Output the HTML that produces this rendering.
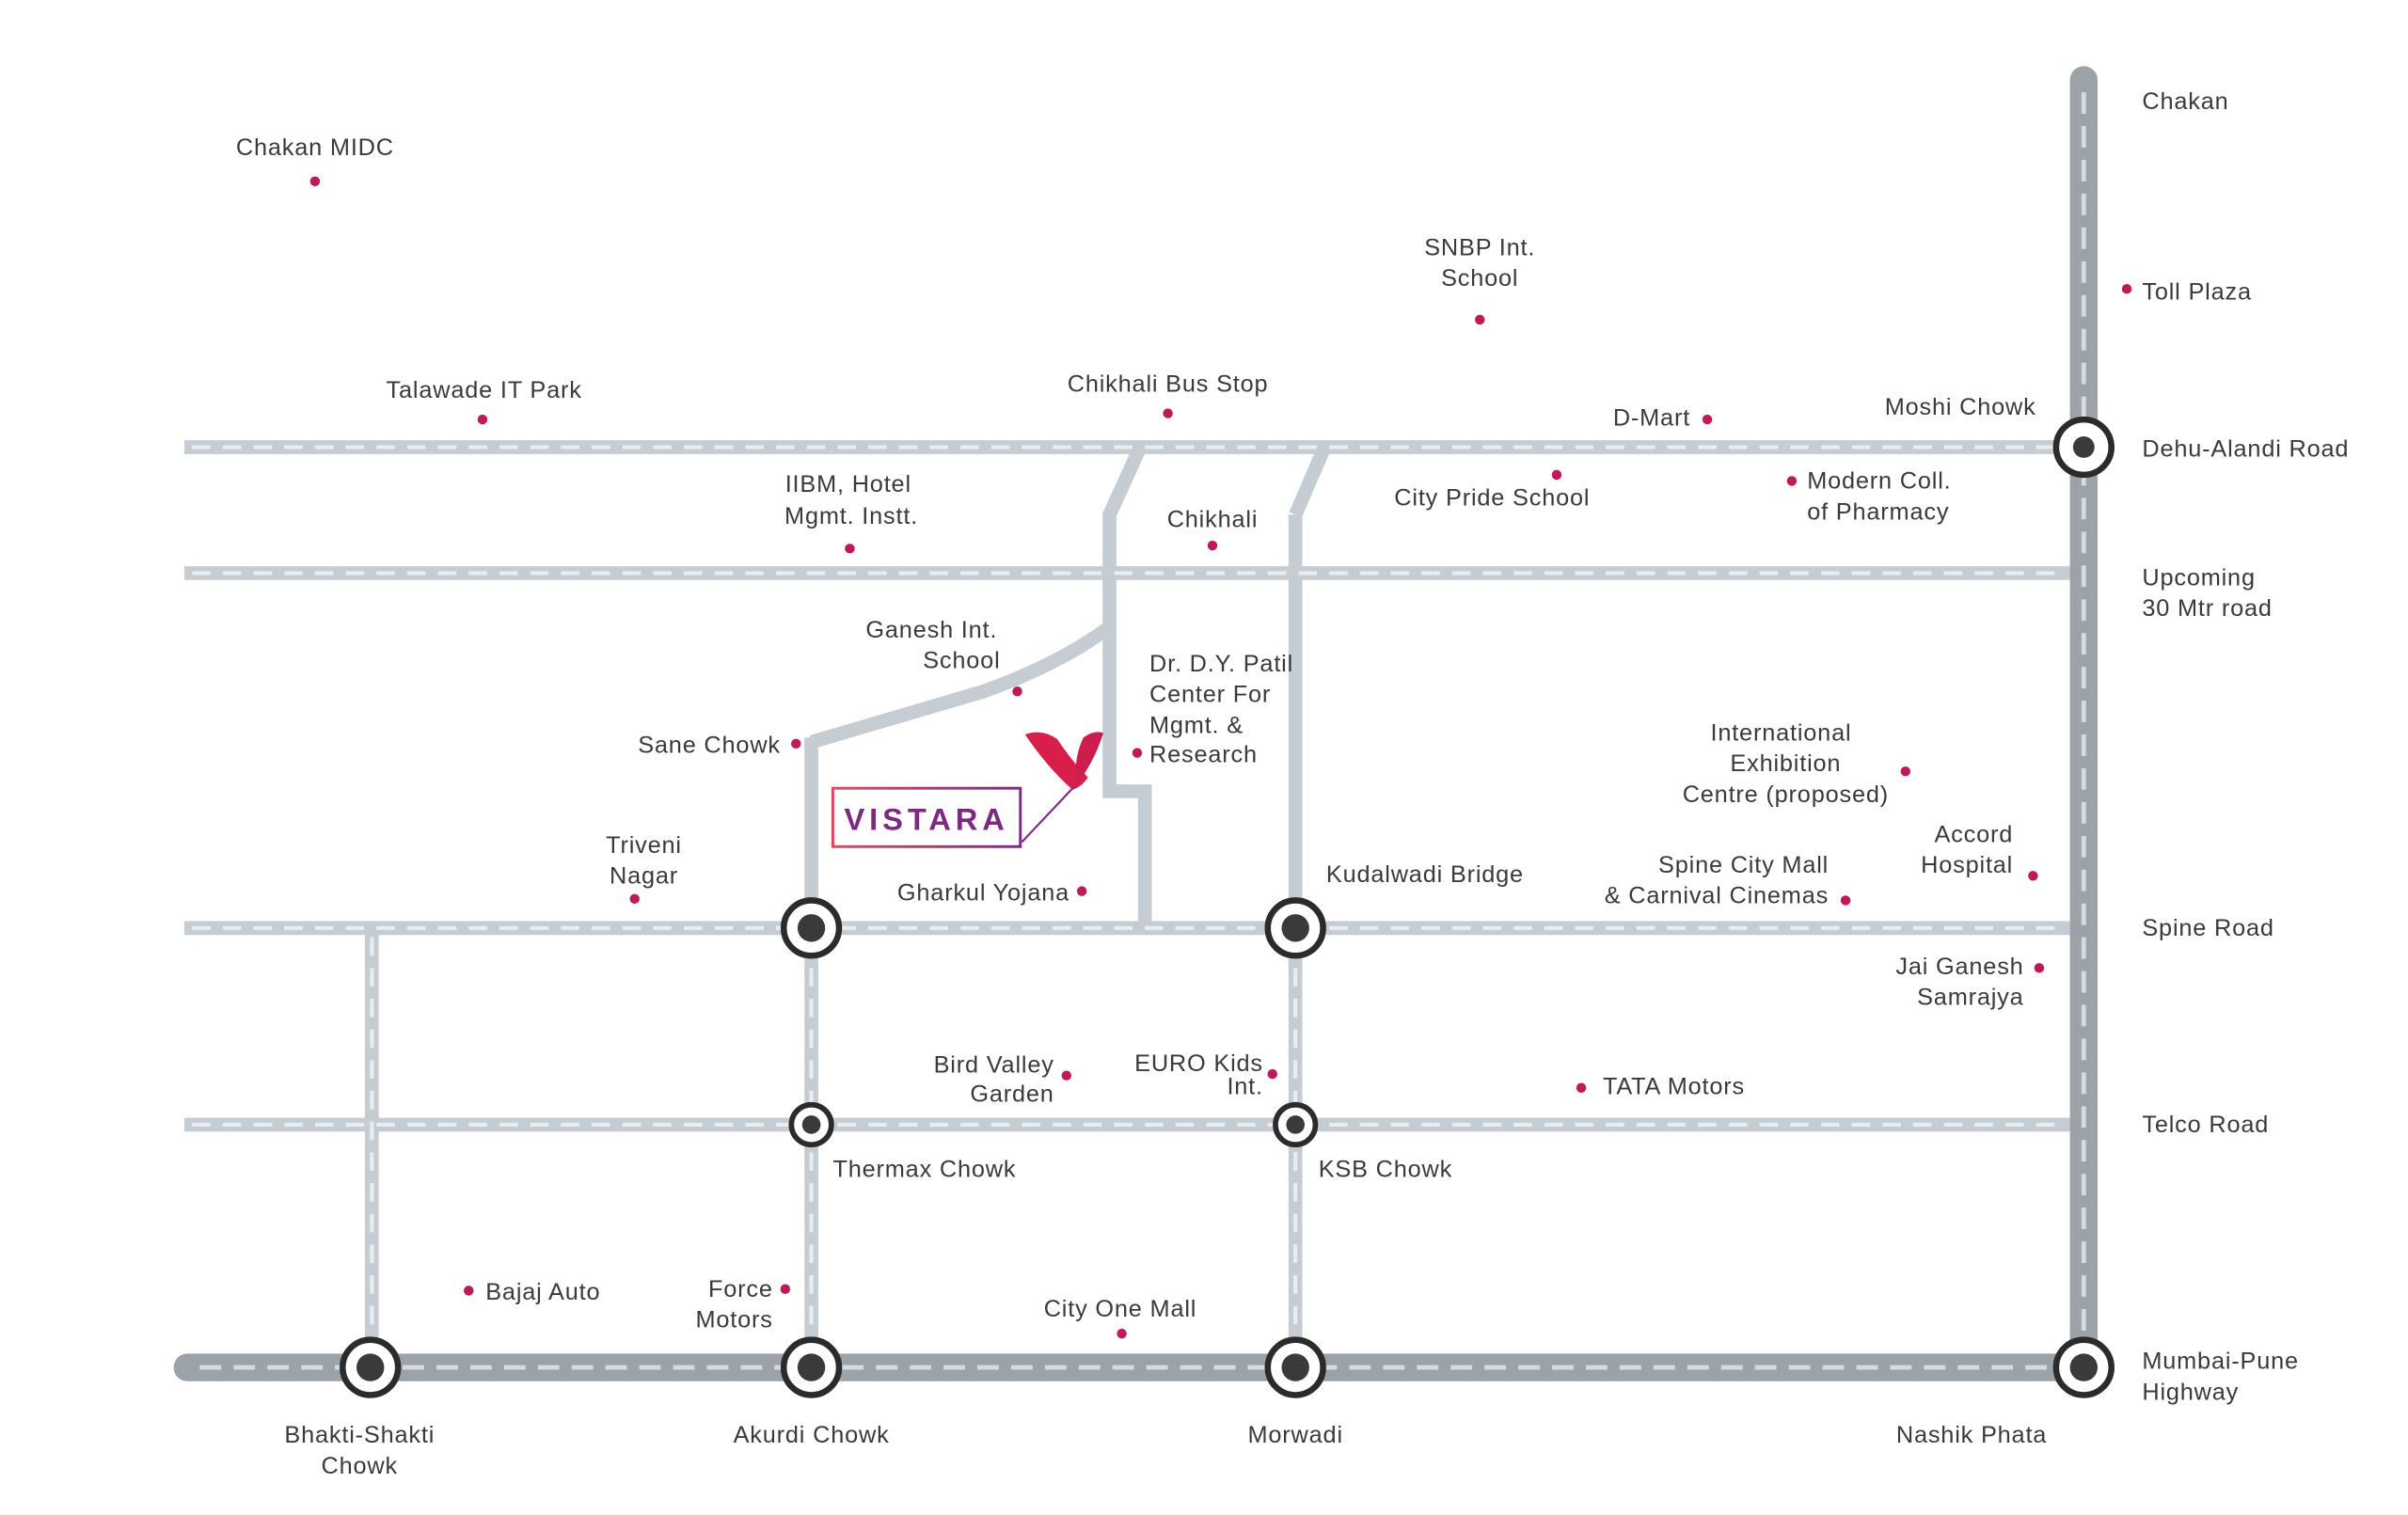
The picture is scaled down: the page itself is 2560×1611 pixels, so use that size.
<!DOCTYPE html>
<html><head><meta charset="utf-8"><style>
html,body{margin:0;padding:0;background:#fff;}
svg{display:block;}
text{font-family:"Liberation Sans",sans-serif;font-size:15.5px;letter-spacing:0.5px;fill:#3a3a3a;}
</style></head><body>
<svg width="2560" height="1611" viewBox="0 0 1567 986" xmlns="http://www.w3.org/2000/svg">
<rect width="1567" height="986" fill="#fff"/>
<defs>
<linearGradient id="bx" x1="0" x2="1"><stop offset="0" stop-color="#e2475f"/><stop offset="1" stop-color="#7b2a85"/></linearGradient>
</defs>
<g fill="none" stroke-linecap="butt">
 <g stroke="#c5cdd3" stroke-width="9">
  <line x1="120" y1="291" x2="1350" y2="291"/>
  <line x1="120" y1="373" x2="1350" y2="373"/>
  <line x1="120" y1="604" x2="1350" y2="604"/>
  <line x1="120" y1="732" x2="1350" y2="732"/>
  <line x1="242" y1="604" x2="242" y2="890"/>
  <line x1="528" y1="480" x2="528" y2="890"/>
  <line x1="843" y1="335" x2="843" y2="890"/>
  <polyline points="862,291 843,335"/>
  <polyline points="742,291 722,335 722,515 745,515 745,604"/>
  <path d="M528,483 L640,450 Q690,432 722,408"/>
 </g>
 <g stroke="#e9edf0" stroke-width="2.5" stroke-dasharray="12 8">
  <line x1="125" y1="291" x2="1340" y2="291"/>
  <line x1="125" y1="373" x2="1340" y2="373"/>
  <line x1="125" y1="604" x2="1340" y2="604"/>
  <line x1="125" y1="732" x2="1340" y2="732"/>
  <line x1="242" y1="610" x2="242" y2="880"/>
  <line x1="528" y1="610" x2="528" y2="880"/>
  <line x1="843" y1="610" x2="843" y2="880"/>
 </g>
 <g stroke="#9ba3a9" stroke-width="18" stroke-linecap="round">
  <line x1="1356" y1="52" x2="1356" y2="890"/>
  <line x1="122" y1="890" x2="1356" y2="890"/>
 </g>
 <g stroke="#d6dbde" stroke-width="3" stroke-dasharray="14 8">
  <line x1="1356" y1="60" x2="1356" y2="880"/>
  <line x1="130" y1="890" x2="1345" y2="890"/>
 </g>
</g>
<g>
 <g fill="#fff" stroke="#2b2b2b" stroke-width="4">
  <circle cx="241" cy="890" r="18"/><circle cx="528" cy="890" r="18"/><circle cx="843" cy="890" r="18"/><circle cx="1356" cy="890" r="18"/>
  <circle cx="528" cy="604" r="18"/><circle cx="843" cy="604" r="18"/><circle cx="1356" cy="291" r="18"/>
  <circle cx="528" cy="732" r="13" stroke-width="3.5"/><circle cx="843" cy="732" r="13" stroke-width="3.5"/>
 </g>
 <g fill="#3a3a3a">
  <circle cx="241" cy="890" r="9"/><circle cx="528" cy="890" r="9"/><circle cx="843" cy="890" r="9"/><circle cx="1356" cy="890" r="9"/>
  <circle cx="528" cy="604" r="9"/><circle cx="843" cy="604" r="9"/><circle cx="1356" cy="291" r="7"/>
  <circle cx="528" cy="732" r="6"/><circle cx="843" cy="732" r="6"/>
 </g>
</g>
<g fill="#c0195a">
 <circle cx="205" cy="118" r="3.2"/><circle cx="963" cy="208" r="3.2"/><circle cx="1384" cy="188" r="3.2"/>
 <circle cx="314" cy="273" r="3.2"/><circle cx="760" cy="269" r="3.2"/><circle cx="1111" cy="273" r="3.2"/>
 <circle cx="553" cy="357" r="3.2"/><circle cx="789" cy="355" r="3.2"/><circle cx="1013" cy="309" r="3.2"/><circle cx="1166" cy="313" r="3.2"/>
 <circle cx="662" cy="450" r="3.2"/><circle cx="518" cy="484" r="3.2"/><circle cx="740" cy="490" r="3.2"/>
 <circle cx="1240" cy="502" r="3.2"/><circle cx="1323" cy="570" r="3.2"/><circle cx="1201" cy="586" r="3.2"/>
 <circle cx="413" cy="585" r="3.2"/><circle cx="704" cy="580" r="3.2"/><circle cx="1327" cy="630" r="3.2"/>
 <circle cx="694" cy="700" r="3.2"/><circle cx="828" cy="699" r="3.2"/><circle cx="1029" cy="708" r="3.2"/>
 <circle cx="305" cy="840" r="3.2"/><circle cx="511" cy="839" r="3.2"/><circle cx="730" cy="868" r="3.2"/>
</g>
<g>
 <path d="M667,478 Q678,474 688,481 Q698,496 708,506 Q704,512 698,514 Q682,500 667,478 Z" fill="#d81f4c"/>
 <path d="M705,480 Q712,475 718,477 Q712,496 701,510 Q698,495 705,480 Z" fill="#cc1d4e"/>
 <line x1="699" y1="512" x2="665" y2="548" stroke="#7b2a85" stroke-width="1.3"/>
 <rect x="542" y="513" width="122" height="38" fill="none" stroke="url(#bx)" stroke-width="1.8"/>
 <text x="603" y="540" text-anchor="middle" style="font-size:20px;font-weight:bold;fill:#7b2a7f;letter-spacing:3px">VISTARA</text>
</g>
<g>
 <text x="205" y="101" text-anchor="middle">Chakan MIDC</text>
 <text x="1394" y="71">Chakan</text>
 <text x="963" y="166" text-anchor="middle">SNBP Int.</text>
 <text x="963" y="186" text-anchor="middle">School</text>
 <text x="1394" y="195">Toll Plaza</text>
 <text x="315" y="259" text-anchor="middle">Talawade IT Park</text>
 <text x="760" y="255" text-anchor="middle">Chikhali Bus Stop</text>
 <text x="1100" y="277" text-anchor="end">D-Mart</text>
 <text x="1325" y="270" text-anchor="end">Moshi Chowk</text>
 <text x="1394" y="297">Dehu-Alandi Road</text>
 <text x="552" y="320" text-anchor="middle">IIBM, Hotel</text>
 <text x="554" y="341" text-anchor="middle">Mgmt. Instt.</text>
 <text x="789" y="343" text-anchor="middle">Chikhali</text>
 <text x="971" y="329" text-anchor="middle">City Pride School</text>
 <text x="1176" y="318">Modern Coll.</text>
 <text x="1176" y="338">of Pharmacy</text>
 <text x="1394" y="381">Upcoming</text>
 <text x="1394" y="401">30 Mtr road</text>
 <text x="649" y="415" text-anchor="end">Ganesh Int.</text>
 <text x="651" y="435" text-anchor="end">School</text>
 <text x="748" y="437">Dr. D.Y. Patil</text>
 <text x="748" y="457">Center For</text>
 <text x="748" y="477">Mgmt. &amp;</text>
 <text x="748" y="496">Research</text>
 <text x="508" y="490" text-anchor="end">Sane Chowk</text>
 <text x="1159" y="482" text-anchor="middle">International</text>
 <text x="1162" y="502" text-anchor="middle">Exhibition</text>
 <text x="1162" y="522" text-anchor="middle">Centre (proposed)</text>
 <text x="1310" y="548" text-anchor="end">Accord</text>
 <text x="1310" y="568" text-anchor="end">Hospital</text>
 <text x="1190" y="568" text-anchor="end">Spine City Mall</text>
 <text x="1190" y="588" text-anchor="end">&amp; Carnival Cinemas</text>
 <text x="419" y="555" text-anchor="middle">Triveni</text>
 <text x="419" y="575" text-anchor="middle">Nagar</text>
 <text x="696" y="586" text-anchor="end">Gharkul Yojana</text>
 <text x="863" y="574">Kudalwadi Bridge</text>
 <text x="1394" y="609">Spine Road</text>
 <text x="1317" y="634" text-anchor="end">Jai Ganesh</text>
 <text x="1317" y="654" text-anchor="end">Samrajya</text>
 <text x="686" y="698" text-anchor="end">Bird Valley</text>
 <text x="686" y="717" text-anchor="end">Garden</text>
 <text x="822" y="697" text-anchor="end">EURO Kids</text>
 <text x="822" y="712" text-anchor="end">Int.</text>
 <text x="1043" y="712">TATA Motors</text>
 <text x="1394" y="737">Telco Road</text>
 <text x="542" y="766">Thermax Chowk</text>
 <text x="858" y="766">KSB Chowk</text>
 <text x="316" y="846">Bajaj Auto</text>
 <text x="503" y="844" text-anchor="end">Force</text>
 <text x="503" y="864" text-anchor="end">Motors</text>
 <text x="729" y="857" text-anchor="middle">City One Mall</text>
 <text x="1394" y="891">Mumbai-Pune</text>
 <text x="1394" y="911">Highway</text>
 <text x="234" y="939" text-anchor="middle">Bhakti-Shakti</text>
 <text x="234" y="959" text-anchor="middle">Chowk</text>
 <text x="528" y="939" text-anchor="middle">Akurdi Chowk</text>
 <text x="843" y="939" text-anchor="middle">Morwadi</text>
 <text x="1283" y="939" text-anchor="middle">Nashik Phata</text>
</g>
</svg>
</body></html>
